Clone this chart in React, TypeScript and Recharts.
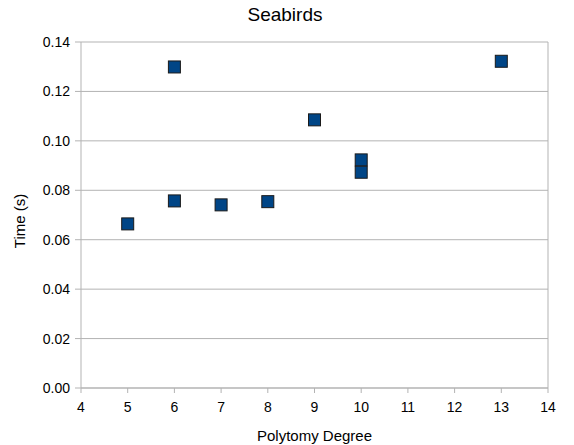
import React from "react";
import {
  ScatterChart,
  Scatter,
  XAxis,
  YAxis,
  CartesianGrid,
  ReferenceLine,
  ZAxis,
} from "recharts";

const degrees = [5, 6, 6, 7, 8, 9, 10, 10, 13];
const times = [0.0664, 0.1299, 0.0757, 0.0741, 0.0754, 0.1085, 0.0923, 0.0873, 0.1322];
const xTicks = [4, 5, 6, 7, 8, 9, 10, 11, 12, 13, 14];
const yTicks = [0, 0.02, 0.04, 0.06, 0.08, 0.1, 0.12, 0.14];

const data = degrees.map((d, i) => ({ x: d, y: times[i] }));

const FONT = "'Liberation Sans', Arial, sans-serif";
const GRID = "#b3b3b3";

const Square = (props: any) => {
  const { cx, cy } = props;
  return (
    <rect
      x={cx - 6}
      y={cy - 6}
      width={12}
      height={12}
      fill="#004586"
      stroke="#1a1a1a"
      strokeWidth={1}
    />
  );
};

export default function App() {
  return (
    <div style={{ position: "absolute", left: 0, top: 0, width: 574, height: 445, background: "#fff" }}>
      <div
        style={{
          position: "absolute",
          left: 0,
          top: 0,
          width: 574,
          textAlign: "center",
          fontFamily: FONT,
          fontSize: 19,
          lineHeight: "30px",
          paddingLeft: 0,
          color: "#000",
        }}
      >
        <span style={{ position: "relative", left: -2 }}>Seabirds</span>
      </div>
      <ScatterChart
        width={574}
        height={445}
        margin={{ top: 42, right: 26, bottom: 7, left: 0 }}
        style={{ fontFamily: FONT }}
      >
        <CartesianGrid vertical={false} stroke={GRID} strokeWidth={1} />
        <XAxis
          type="number"
          dataKey="x"
          domain={[4, 14]}
          ticks={xTicks}
          interval={0}
          height={50}
          allowDataOverflow
          axisLine={{ stroke: GRID }}
          tickLine={{ stroke: GRID }}
          tickSize={5}
          tickMargin={9}
          tick={{ fill: "#000", fontSize: 14, fontFamily: FONT }}
          label={{
            content: () => (
              <text x={314.5} y={441} textAnchor="middle" fontSize={15} fontFamily={FONT} fill="#000">
                Polytomy Degree
              </text>
            ),
          }}
        />
        <YAxis
          type="number"
          dataKey="y"
          domain={[0, 0.14]}
          ticks={yTicks}
          interval={0}
          width={81}
          allowDataOverflow
          axisLine={{ stroke: GRID }}
          tickLine={{ stroke: GRID }}
          tickSize={6}
          tickMargin={5}
          tickFormatter={(v: number) => v.toFixed(2)}
          tick={{ fill: "#000", fontSize: 14, fontFamily: FONT }}
          label={{
            content: () => (
              <text
                x={25}
                y={221}
                textAnchor="middle"
                fontSize={15}
                fontFamily={FONT}
                fill="#000"
                transform="rotate(-90 25 221)"
              >
                Time (s)
              </text>
            ),
          }}
        />
        <ZAxis range={[144, 144]} />
        <ReferenceLine x={14} stroke={GRID} strokeWidth={1} ifOverflow="extendDomain" />
        <Scatter data={data} shape={Square} isAnimationActive={false} />
      </ScatterChart>
    </div>
  );
}
